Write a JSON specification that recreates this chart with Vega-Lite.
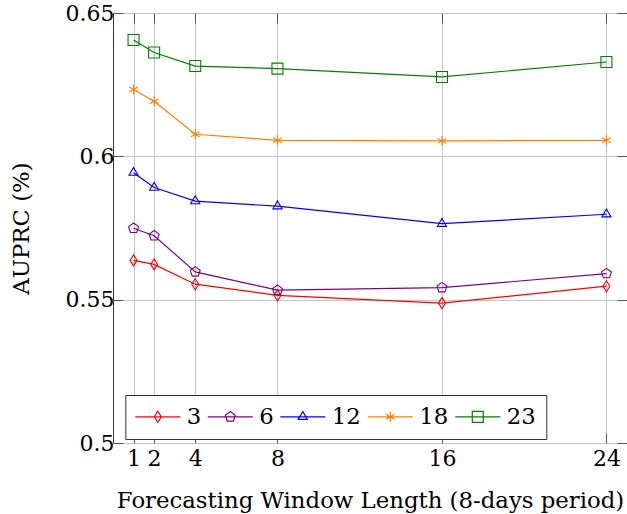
{
  "$schema": "https://vega.github.io/schema/vega-lite/v6.json",
  "width": 514,
  "height": 430,
  "autosize": {"type": "none"},
  "padding": {"left": 113, "top": 13, "right": 0, "bottom": 71},
  "background": "white",
  "config": {
    "view": {"stroke": "#333333", "strokeWidth": 1},
    "font": "DejaVu Serif",
    "axis": {
      "labelFont": "DejaVu Serif",
      "titleFont": "DejaVu Serif",
      "labelColor": "black",
      "titleColor": "black",
      "labelFontSize": 22,
      "titleFontSize": 22.8,
      "titleFontWeight": "normal",
      "gridColor": "#c4c4c4",
      "gridWidth": 1,
      "tickColor": "#555555",
      "tickWidth": 1,
      "domain": false,
      "labelFlush": false,
      "labelOverlap": false
    },
    "legend": {
      "orient": "none",
      "legendX": 12.3,
      "legendY": 382,
      "direction": "horizontal",
      "symbolSize": 100,
      "symbolStrokeWidth": 1.2,
      "symbolOffset": 11.1,
      "symbolFillColor": "transparent",
      "symbolOpacity": 1,
      "labelOffset": 17.5,
      "columnPadding": 3.5,
      "padding": 10,
      "strokeColor": "#333333",
      "fillColor": "white",
      "labelFont": "DejaVu Serif",
      "labelFontSize": 22.8,
      "labelColor": "black"
    }
  },
  "data": {
    "values": [
      {"x": 1, "v": 0.5637, "s": 3},
      {"x": 2, "v": 0.5623, "s": 3},
      {"x": 4, "v": 0.5554, "s": 3},
      {"x": 8, "v": 0.5515, "s": 3},
      {"x": 16, "v": 0.5488, "s": 3},
      {"x": 24, "v": 0.5547, "s": 3},
      {"x": 1, "v": 0.5749, "s": 6},
      {"x": 2, "v": 0.5723, "s": 6},
      {"x": 4, "v": 0.5597, "s": 6},
      {"x": 8, "v": 0.5533, "s": 6},
      {"x": 16, "v": 0.5542, "s": 6},
      {"x": 24, "v": 0.5591, "s": 6},
      {"x": 1, "v": 0.5943, "s": 12},
      {"x": 2, "v": 0.5891, "s": 12},
      {"x": 4, "v": 0.5844, "s": 12},
      {"x": 8, "v": 0.5826, "s": 12},
      {"x": 16, "v": 0.5765, "s": 12},
      {"x": 24, "v": 0.5798, "s": 12},
      {"x": 1, "v": 0.6233, "s": 18},
      {"x": 2, "v": 0.6192, "s": 18},
      {"x": 4, "v": 0.6077, "s": 18},
      {"x": 8, "v": 0.6056, "s": 18},
      {"x": 16, "v": 0.6054, "s": 18},
      {"x": 24, "v": 0.6056, "s": 18},
      {"x": 1, "v": 0.6406, "s": 23},
      {"x": 2, "v": 0.6362, "s": 23},
      {"x": 4, "v": 0.6315, "s": 23},
      {"x": 8, "v": 0.6306, "s": 23},
      {"x": 16, "v": 0.6277, "s": 23},
      {"x": 24, "v": 0.6329, "s": 23}
    ]
  },
  "encoding": {
    "x": {
      "field": "x", "type": "quantitative",
      "scale": {"domain": [0, 25], "nice": false, "zero": false},
      "axis": null
    },
    "y": {
      "field": "v", "type": "quantitative",
      "scale": {"domain": [0.5, 0.65], "nice": false, "zero": false},
      "axis": null
    }
  },
  "layer": [
    {
      "mark": {"type": "point", "filled": false, "size": 100, "strokeWidth": 1.2, "opacity": 0},
      "encoding": {
        "x": {
          "field": "x", "type": "quantitative",
          "scale": {"domain": [0, 25], "nice": false, "zero": false},
          "axis": {
            "orient": "bottom",
            "values": [1, 2, 4, 8, 16, 24],
            "format": "d",
            "grid": true,
            "tickSize": -10,
            "labelPadding": 15,
            "titlePadding": 20,
            "title": "Forecasting Window Length (8-days period)"
          }
        },
        "y": {
          "field": "v", "type": "quantitative",
          "scale": {"domain": [0.5, 0.65], "nice": false, "zero": false},
          "axis": {
            "orient": "left",
            "values": [0.5, 0.55, 0.6, 0.65],
            "format": ".2~f",
            "grid": true,
            "tickSize": -10,
            "labelPadding": 9,
            "titlePadding": 32,
            "title": "AUPRC (%)"
          }
        },
        "color": {
          "field": "s", "type": "nominal",
          "scale": {"domain": [3, 6, 12, 18, 23], "range": ["#ff0000", "#800080", "#0000ff", "#ff8000", "#008000"]},
          "legend": {"title": null, "symbolOpacity": 1}
        },
        "shape": {
          "field": "s", "type": "nominal",
          "scale": {
            "domain": [3, 6, 12, 18, 23],
            "range": [
              "M-4.5,0H4.5M0,-1.1L0.7,0L0,1.1L-0.7,0Z",
              "M-4.5,0H4.5M0,-1.05L0.999,-0.324L0.617,0.849L-0.617,0.849L-0.999,-0.324Z",
              "M-4.5,0H4.5M0,-1.05L0.909,0.525L-0.909,0.525Z",
              "M-4.5,0H4.5M0,-1L0,1M-0.866,-0.5L0.866,0.5M-0.866,0.5L0.866,-0.5",
              "M-4.5,0H4.5M-1.1,-1.1H1.1V1.1H-1.1Z"
            ]
          },
          "legend": {"title": null, "symbolOpacity": 1}
        }
      }
    },
    {
      "mark": {"type": "point", "opacity": 0},
      "encoding": {
        "x": {
          "field": "x", "type": "quantitative",
          "scale": {"domain": [0, 25], "nice": false, "zero": false},
          "axis": {"orient": "top", "values": [1, 2, 4, 8, 16, 24], "labels": false, "grid": false, "tickSize": -10, "title": null}
        },
        "y": {
          "field": "v", "type": "quantitative",
          "scale": {"domain": [0.5, 0.65], "nice": false, "zero": false},
          "axis": {"orient": "right", "values": [0.5, 0.55, 0.6, 0.65], "labels": false, "grid": false, "tickSize": -10, "title": null}
        }
      }
    },
    {
      "transform": [{"filter": "datum.s == 3"}],
      "mark": {"type": "line", "color": "#ff0000", "strokeWidth": 1.2,
        "point": {"shape": "M0,-1.1L0.7,0L0,1.1L-0.7,0Z", "filled": false, "size": 100, "strokeWidth": 1.1, "color": "#ff0000", "opacity": 1}}
    },
    {
      "transform": [{"filter": "datum.s == 6"}],
      "mark": {"type": "line", "color": "#800080", "strokeWidth": 1.2,
        "point": {"shape": "M0,-1.05L0.999,-0.324L0.617,0.849L-0.617,0.849L-0.999,-0.324Z", "filled": false, "size": 100, "strokeWidth": 1.1, "color": "#800080", "opacity": 1}}
    },
    {
      "transform": [{"filter": "datum.s == 12"}],
      "mark": {"type": "line", "color": "#0000ff", "strokeWidth": 1.2,
        "point": {"shape": "M0,-1.05L0.909,0.525L-0.909,0.525Z", "filled": false, "size": 100, "strokeWidth": 1.1, "color": "#0000ff", "opacity": 1}}
    },
    {
      "transform": [{"filter": "datum.s == 18"}],
      "mark": {"type": "line", "color": "#ff8000", "strokeWidth": 1.2,
        "point": {"shape": "M0,-1L0,1M-0.866,-0.5L0.866,0.5M-0.866,0.5L0.866,-0.5", "filled": false, "size": 100, "strokeWidth": 1.1, "color": "#ff8000", "opacity": 1}}
    },
    {
      "transform": [{"filter": "datum.s == 23"}],
      "mark": {"type": "line", "color": "#008000", "strokeWidth": 1.2,
        "point": {"shape": "M-1.1,-1.1H1.1V1.1H-1.1Z", "filled": false, "size": 100, "strokeWidth": 1.1, "color": "#008000", "opacity": 1}}
    }
  ]
}
